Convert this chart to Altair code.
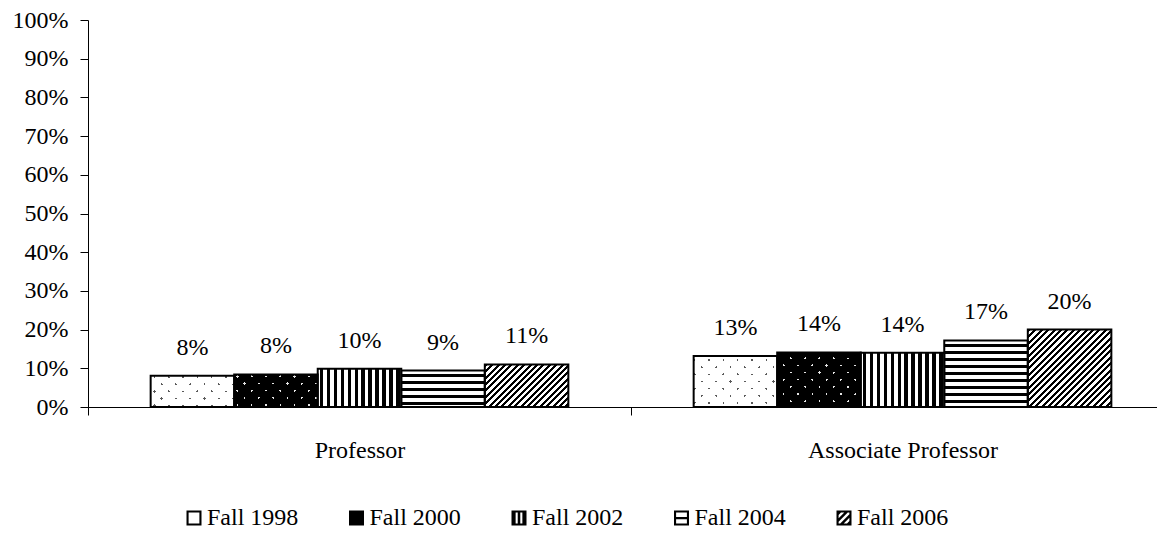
import altair as alt
import pandas as pd

# ---------------- data ----------------
RANKS = ["Professor", "Associate Professor"]
YEARS = ["Fall 1998", "Fall 2000", "Fall 2002", "Fall 2004", "Fall 2006"]
PROFESSOR = [8.1, 8.4, 9.9, 9.4, 11.0]
ASSOCIATE = [13.2, 14.1, 14.0, 17.2, 20.0]
Y_TICKS = list(range(0, 101, 10))

FONT = "Liberation Serif"
W, H = 1069, 387          # visible plot area
XRANGE = 1086             # full category range (runs past the right edge, as in the original)
BAR_W = XRANGE / 2 / 6.5  # width of one bar in px
PX = H / 100.0            # px per percentage point

rows = []
for rank, vals in zip(RANKS, [PROFESSOR, ASSOCIATE]):
    for yr, v in zip(YEARS, vals):
        rows.append({"rank": rank, "year": yr, "value": v})
df = pd.DataFrame(rows)

# ---------------- pattern helpers (gradients with hard stops) ----------------
CLEAR_W = "rgba(255,255,255,0)"
CLEAR_B = "rgba(0,0,0,0)"


def bands(L, P, g, on, off, phase=0.0):
    stops = [(0.0, off)]
    k = -3
    while True:
        s = phase + k * P
        e = s + g
        k += 1
        if s >= L:
            break
        if e <= 0:
            continue
        s2 = max(s, 0.0) / L
        e2 = min(e, L) / L
        stops += [(s2, off), (s2, on), (e2, on), (e2, off)]
    stops.append((1.0, off))
    return [{"offset": round(o, 5), "color": c} for o, c in stops]


def grad(x1, y1, x2, y2, stops):
    return {"gradient": "linear", "x1": x1, "y1": y1, "x2": x2, "y2": y2, "stops": stops}


def vstripes(w, P, g, on, off, phase):
    return grad(0, 0, 1, 0, bands(w, P, g, on, off, phase))


def hstripes(h, P, g, on, off, phase):
    return grad(0, 0, 0, 1, bands(h, P, g, on, off, phase))


def diagonal(w, h, P, g, on, off, phase, rising=True):
    r = h / w
    a = (1 + r) / (1 + r * r)
    st = bands(w + h, P, g, on, off, phase)
    if rising:
        return grad(0, 0, a, a * r, st)
    return grad(0, 1, a, 1 - a * r, st)


def patterns_for(year, value):
    h = value * PX
    w = BAR_W
    if year == "Fall 1998":
        return ["#5a5a5a",
                diagonal(w, h, 14.3, 2.4, CLEAR_W, "white", 4, True),
                diagonal(w, h, 14.3, 2.4, CLEAR_W, "white", 4, False)]
    if year == "Fall 2000":
        return ["#e6e6e6",
                diagonal(w, h, 14.3, 2.4, CLEAR_B, "black", 4, True),
                diagonal(w, h, 14.3, 2.4, CLEAR_B, "black", 4, False)]
    if year == "Fall 2002":
        return [vstripes(w, w / 12.0, 3.2, "black", "white", 2.0)]
    if year == "Fall 2004":
        return [hstripes(h, 7.0, 3.0, "black", "white", 3.5)]
    return [diagonal(w, h, 6.4, 3.0, "black", "white", 0.0, True)]


# ---------------- legend glyphs (custom symbol paths, unit square) ----------------
OUTER = "M-1,-1H1V1H-1Z"


def hole(x0, y0, x1, y1):
    # counter-clockwise rectangle -> a hole under the nonzero rule
    return f"M{x0},{y0}V{y1}H{x1}V{y0}Z"


def clip_band(c1, c2, a=0.72):
    poly = [(-a, -a), (-a, a), (a, a), (a, -a)]

    def clip(pts, keep, inter):
        out = []
        n = len(pts)
        for i in range(n):
            p, q = pts[i], pts[(i + 1) % n]
            if keep(p):
                out.append(p)
            if keep(p) != keep(q):
                out.append(inter(p, q))
        return out

    def mk(c):
        def inter(p, q):
            fp, fq = p[0] + p[1] - c, q[0] + q[1] - c
            t = fp / (fp - fq)
            return (p[0] + t * (q[0] - p[0]), p[1] + t * (q[1] - p[1]))
        return inter

    poly = clip(poly, lambda p: p[0] + p[1] >= c1, mk(c1))
    poly = clip(poly, lambda p: p[0] + p[1] <= c2, mk(c2))
    if len(poly) < 3:
        return ""
    return "M" + "L".join(f"{x:.3f},{y:.3f}" for x, y in poly) + "Z"


SHAPES = [
    OUTER + " " + hole(-0.72, -0.72, 0.72, 0.72),
    OUTER,
    OUTER + " " + hole(-0.45, -0.72, -0.17, 0.72) + " " + hole(0.17, -0.72, 0.45, 0.72),
    OUTER + " " + hole(-0.72, -0.72, 0.72, -0.15) + " " + hole(-0.72, 0.15, 0.72, 0.72),
    OUTER + " " + " ".join(clip_band(c - 0.22, c + 0.22) for c in (-0.9, 0.0, 0.9)),
]

legend = alt.Legend(
    title=None, orient="none", legendX=94, legendY=486, direction="horizontal",
    symbolSize=225, symbolStrokeWidth=0, symbolFillColor="black", symbolOpacity=1,
    labelFont=FONT, labelFontSize=24, labelColor="black", labelOffset=1,
    columnPadding=45.5, padding=0,
)

x_axis = alt.Axis(title=None, tickBand="extent", tickSize=8, labelPadding=23, labelAngle=0,
                  labelLimit=0, domainColor="black", tickColor="black", labelFont=FONT,
                  labelFontSize=24, labelColor="black", grid=False)
y_axis = alt.Axis(title=None, values=Y_TICKS, labelExpr="datum.value + '%'", tickSize=8,
                  labelPadding=12, domainColor="black", tickColor="black", labelFont=FONT,
                  labelFontSize=24, labelColor="black", grid=False)

x_scale = alt.Scale(domain=RANKS, range=[0, XRANGE], paddingInner=0, paddingOuter=0)
y_scale = alt.Scale(domain=[0, 100], nice=False)
x_enc = alt.X("rank:N", scale=x_scale, axis=x_axis)
xo_enc = alt.XOffset("year:N", scale=alt.Scale(domain=YEARS, paddingInner=0, paddingOuter=0.75))
y_enc = alt.Y("value:Q", scale=y_scale, axis=y_axis)

layers = [
    # legend source: small glyphs hidden under the bars
    alt.Chart()
    .transform_calculate(mid="datum.value / 2")
    .mark_point(filled=True, color="black", size=169, strokeWidth=0, opacity=1)
    .encode(
        x=x_enc, xOffset=xo_enc,
        y=alt.Y("mid:Q", scale=y_scale, axis=y_axis),
        shape=alt.Shape("year:N", scale=alt.Scale(domain=YEARS, range=SHAPES), legend=legend),
    ),
]

for rank, vals in zip(RANKS, [PROFESSOR, ASSOCIATE]):
    for yr, v in zip(YEARS, vals):
        for g in patterns_for(yr, v):
            layers.append(
                alt.Chart()
                .transform_filter(f"datum.rank === '{rank}' && datum.year === '{yr}'")
                .mark_bar(fill=g, strokeWidth=0)
                .encode(x=x_enc, xOffset=xo_enc, y=y_enc)
            )

layers.append(
    alt.Chart().mark_bar(fillOpacity=0, stroke="black", strokeWidth=2).encode(
        x=x_enc, xOffset=xo_enc, y=y_enc)
)
layers.append(
    alt.Chart()
    .transform_calculate(label="format(datum.value, '.0f') + '%'")
    .mark_text(font=FONT, fontSize=24, color="black", dy=-28, baseline="middle")
    .encode(x=x_enc, xOffset=xo_enc, y=y_enc, text="label:N")
)

chart = (
    alt.layer(*layers, data=df)
    .properties(
        width=W, height=H,
        autosize=alt.AutoSizeParams(type="none"),
        padding={"left": 80, "top": 12, "right": 0, "bottom": 125},
        background="white",
    )
    .configure_view(stroke=None)
)

chart.save("out.html", embed_options={"renderer": "svg", "actions": False})
